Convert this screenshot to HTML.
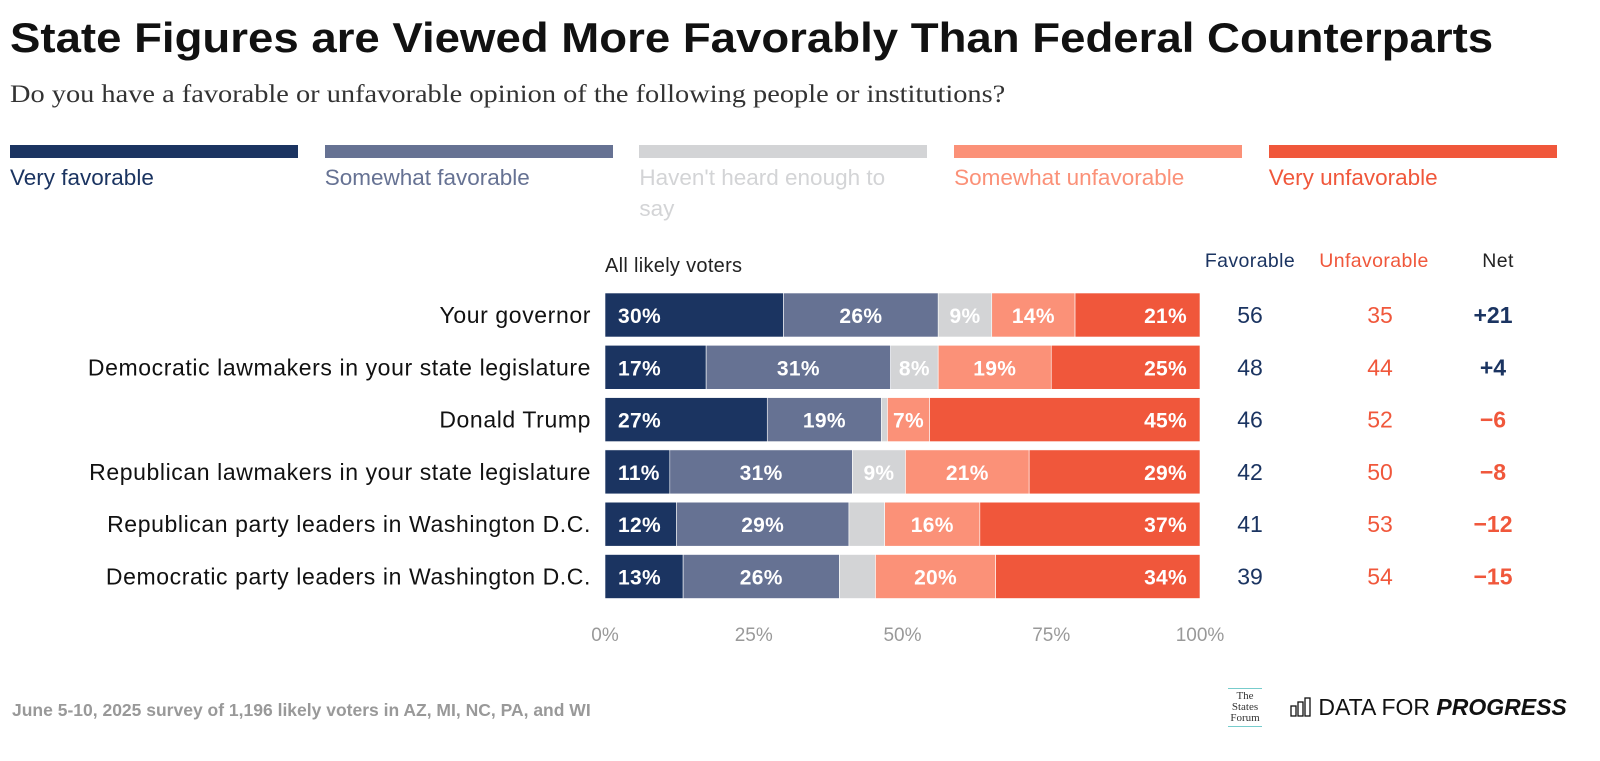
<!DOCTYPE html>
<html><head><meta charset="utf-8"><style>
body{margin:0;width:1600px;height:761px;background:#fff;font-family:"Liberation Sans",sans-serif;overflow:hidden;position:relative}
.abs{position:absolute}
</style></head><body>
<div class="abs" style="left:10px;top:14px;font-size:42px;font-weight:bold;color:#111;transform:scaleX(1.085);transform-origin:left top;white-space:nowrap">State Figures are Viewed More Favorably Than Federal Counterparts</div>
<div class="abs" style="left:10px;top:81px;font-size:25px;font-family:'Liberation Serif',serif;color:#333;transform:scaleX(1.135);transform-origin:left top;white-space:nowrap">Do you have a favorable or unfavorable opinion of the following people or institutions?</div>
<div id="legend"></div>
<svg id="chart" class="abs" style="left:0;top:0" width="1600" height="761"></svg>
<div class="abs" style="left:12px;top:700px;font-size:17.5px;font-weight:bold;color:#999">June 5-10, 2025 survey of 1,196 likely voters in AZ, MI, NC, PA, and WI</div>
<div class="abs" style="left:1228px;top:688px;width:34px;text-align:center;font-family:'Liberation Serif',serif;font-size:11px;line-height:11px;color:#333;border-top:1px solid #7cc;border-bottom:1px solid #7cc;padding:2px 0">The<br>States<br>Forum</div>
<div class="abs" style="left:1290px;top:694px;font-size:23px;color:#111;white-space:nowrap"><svg width="22" height="20" style="vertical-align:-2px"><rect x="1" y="9" width="5" height="10" fill="none" stroke="#111" stroke-width="1.3"/><rect x="8" y="5" width="5" height="14" fill="none" stroke="#111" stroke-width="1.3"/><rect x="15" y="1" width="5" height="18" fill="none" stroke="#111" stroke-width="1.3"/></svg> DATA FOR <b><i>PROGRESS</i></b></div>
<script>
const categories=["Your governor","Democratic lawmakers in your state legislature","Donald Trump","Republican lawmakers in your state legislature","Republican party leaders in Washington D.C.","Democratic party leaders in Washington D.C."];
const veryFav=[30,17,27,11,12,13];
const someFav=[26,31,19,31,29,26];
const notHeard=[9,8,1,9,6,6];
const someUnfav=[14,19,7,21,16,20];
const veryUnfav=[21,25,45,29,37,34];
const favorable=[56,48,46,42,41,39];
const unfavorable=[35,44,52,50,53,54];
const net=["+21","+4","\u22126","\u22128","\u221212","\u221215"];
const ticks=[0,25,50,75,100];
const seriesNames=["Very favorable","Somewhat favorable","Haven't heard enough to say","Somewhat unfavorable","Very unfavorable"];
const colors=["#1b3461","#667293","#d3d4d6","#fb9178","#f0573b"];
const series=[veryFav,someFav,notHeard,someUnfav,veryUnfav];
const NS="http://www.w3.org/2000/svg";
const svg=document.getElementById('chart');
const x0=605,x1=1200,y0=293,step=52.3,bh=44;
const xs=p=>x0+(x1-x0)*p/100;
function el(t,a,txt){const e=document.createElementNS(NS,t);for(const k in a)e.setAttribute(k,a[k]);if(txt!==undefined)e.textContent=txt;svg.appendChild(e);return e;}
const lg=document.getElementById('legend');
seriesNames.forEach((n,i)=>{const lx=10+i*314.7;
const b=document.createElement('div');b.className='abs';b.style.cssText=`left:${lx}px;top:145px;width:288px;height:13px;background:${colors[i]}`;


lg.appendChild(b);
const t=document.createElement('div');t.className='abs';t.style.cssText=`left:${lx}px;top:162px;width:285px;font-size:22.5px;line-height:31px;color:${colors[i]}`;t.textContent=n;


lg.appendChild(t);});
let h=el('text',{x:x0,y:272,'font-size':20,'letter-spacing':0.3,fill:'#222'},'All likely voters');


[["Favorable",1250,'#1b3461'],["Unfavorable",1374,'#f0573b'],["Net",1498,'#222']].forEach(c=>{const t=el('text',{x:c[1],y:267,'font-size':19.5,'letter-spacing':0.4,fill:c[2],'text-anchor':'middle'},c[0]);

});
categories.forEach((c,r)=>{const y=y0+r*step;const cy=y+bh/2+8;
const l=el('text',{x:591,y:cy,'font-size':23,'letter-spacing':0.6,fill:'#111','text-anchor':'end'},c);


const tot=series.reduce((s,a)=>s+a[r],0);let acc=0;
series.forEach((a,i)=>{const v=a[r];const xa=xs(acc/tot*100),xb=xs((acc+v)/tot*100);acc+=v;
const rc=el('rect',{x:xa,y:y,width:xb-xa,height:bh,fill:colors[i],stroke:'#fff','stroke-width':0.6});


if(v>=7){let tx,anc;if(i==0){tx=xa+13;anc='start'}else if(i==4){tx=xb-13;anc='end'}else{tx=(xa+xb)/2;anc='middle'}
const t=el('text',{x:tx,y:cy,'font-size':21,'font-weight':'bold','letter-spacing':0.3,fill:'#fff','text-anchor':anc},v+'%');

}});
const f=el('text',{x:1250,y:cy,'font-size':23,fill:'#1b3461','text-anchor':'middle'},favorable[r]);


const u=el('text',{x:1380,y:cy,'font-size':23,fill:'#f0573b','text-anchor':'middle'},unfavorable[r]);


const n=el('text',{x:1493,y:cy,'font-size':23,'font-weight':'bold',fill:net[r][0]=='+'?'#1b3461':'#f0573b','text-anchor':'middle'},net[r]);

});
ticks.forEach(t=>{const e=el('text',{x:xs(t),y:641,'font-size':19,fill:'#999','text-anchor':'middle'},t+'%');

});
</script>
</body></html>
